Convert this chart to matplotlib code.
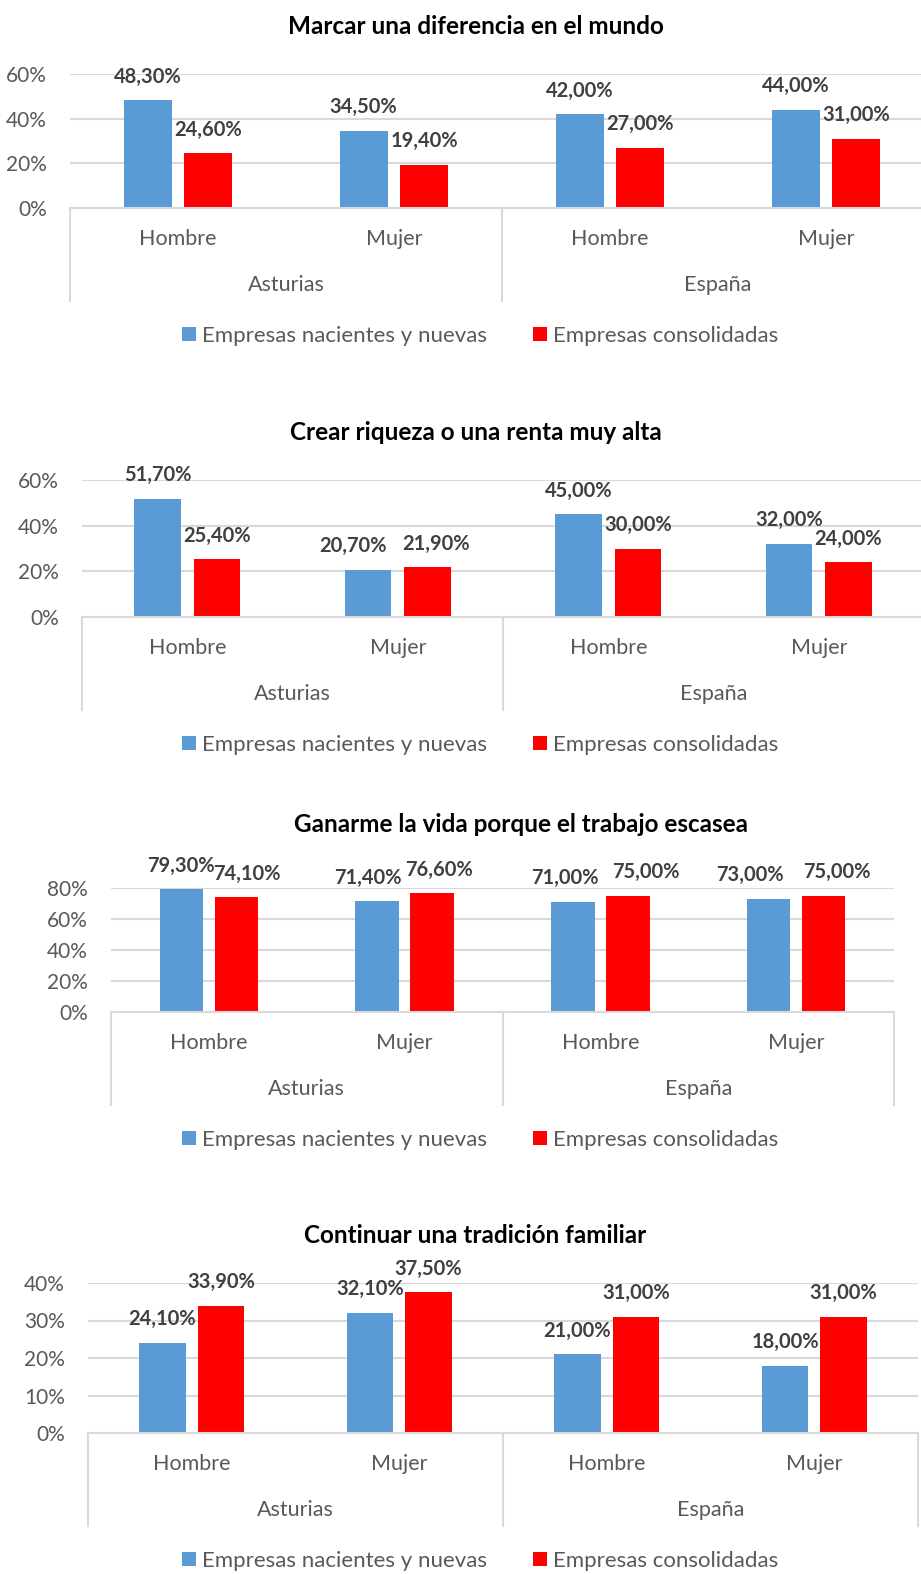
import matplotlib
matplotlib.use('Agg')
import matplotlib.pyplot as plt
from matplotlib.ticker import FuncFormatter

plt.rcParams['font.family'] = ['Lato', 'DejaVu Sans']

# Data
titles = ['Marcar una diferencia en el mundo',
          'Crear riqueza o una renta muy alta',
          'Ganarme la vida porque el trabajo escasea',
          'Continuar una tradición familiar']
regions = ['Asturias', 'España']
sexes = ['Hombre', 'Mujer']
series_names = ['Empresas nacientes y nuevas', 'Empresas consolidadas']

nacientes_diferencia = [48.3, 34.5, 42.0, 44.0]
consolidadas_diferencia = [24.6, 19.4, 27.0, 31.0]
nacientes_riqueza = [51.7, 20.7, 45.0, 32.0]
consolidadas_riqueza = [25.4, 21.9, 30.0, 24.0]
nacientes_ganarme = [79.3, 71.4, 71.0, 73.0]
consolidadas_ganarme = [74.1, 76.6, 75.0, 75.0]
nacientes_tradicion = [24.1, 32.1, 21.0, 18.0]
consolidadas_tradicion = [33.9, 37.5, 31.0, 31.0]

y_max = [60, 60, 80, 40]
y_step = [20, 20, 20, 10]

blue = '#5B9BD5'
red = '#FF0000'
grid_col = '#D9D9D9'
text_col = '#595959'
label_col = '#404040'

W, H = 921, 1574
fig = plt.figure(figsize=(W / 100, H / 100), dpi=100)

# layout in pixels: left, right, top (max value), bottom (0%)
boxes = [(70, 934, 74, 208), (82, 924, 480, 617),
         (111, 894, 888, 1012), (88, 918, 1283, 1433)]
title_pos = [(476, 34), (476, 440), (521, 832), (475, 1243)]
# horizontal nudges of some data labels (pixels) where Excel moved them
blue_shift = [[0, 0, 0, 0], [0, -15, 0, 0], [0, -9, -8, -19], [0, 0, 0, 0]]
red_shift = [[0, 0, 0, 0], [0, 9, 0, 0], [10, 7, 18, 13], [0, 0, 0, 0]]

panels = [(nacientes_diferencia, consolidadas_diferencia),
          (nacientes_riqueza, consolidadas_riqueza),
          (nacientes_ganarme, consolidadas_ganarme),
          (nacientes_tradicion, consolidadas_tradicion)]

x = list(range(4))
bw = 0.222
off = 0.141

for k, (nac, con) in enumerate(panels):
    left, right, top, bottom = boxes[k]
    ax = fig.add_axes([left / W, 1 - bottom / H, (right - left) / W, (bottom - top) / H])
    axh = bottom - top

    b1 = ax.bar([i - off for i in x], nac, bw, color=blue, zorder=3)
    b2 = ax.bar([i + off for i in x], con, bw, color=red, zorder=3)

    ax.set_xlim(-0.5, 3.5)
    ax.set_ylim(0, y_max[k])
    ax.set_yticks(range(0, y_max[k] + 1, y_step[k]))
    ax.yaxis.set_major_formatter(FuncFormatter(lambda v, p: f'{v:.0f}%'))
    ax.tick_params(axis='y', length=0, pad=16.5, labelsize=15, labelcolor=text_col)
    ax.set_xticks([])
    ax.grid(axis='y', color=grid_col, linewidth=1.5, zorder=0)
    ax.set_axisbelow(True)
    for s in ['top', 'right', 'left']:
        ax.spines[s].set_visible(False)
    ax.spines['bottom'].set_color(grid_col)
    ax.spines['bottom'].set_linewidth(1.5)
    ax.spines['bottom'].set_zorder(4)

    # data labels
    for i in x:
        for val, dx, sh in [(nac[i], -off, blue_shift[k][i]), (con[i], off, red_shift[k][i])]:
            ax.annotate(f'{val:.2f}%'.replace('.', ','), xy=(i + dx, val),
                        xytext=(sh, 23.5), textcoords='offset pixels',
                        ha='center', va='center', fontsize=14.5, fontweight='bold',
                        color=label_col, annotation_clip=False)

    # two-level category axis
    for i in x:
        ax.annotate(sexes[i % 2], xy=(i, 0), xycoords=('data', 'axes fraction'),
                    xytext=(0, -31), textcoords='offset pixels',
                    ha='center', va='center', fontsize=15.5, color=text_col)
    for j, reg in enumerate(regions):
        ax.annotate(reg, xy=(2 * j + 0.5, 0), xycoords=('data', 'axes fraction'),
                    xytext=(0, -77), textcoords='offset pixels',
                    ha='center', va='center', fontsize=15.5, color=text_col)
    for sx in [-0.5, 1.5, 3.5]:
        ax.plot([sx, sx], [0, -93 / axh], transform=ax.get_xaxis_transform(),
                color=grid_col, linewidth=1.5, clip_on=False)

    tx, ty = title_pos[k]
    fig.text(tx / W, 1 - ty / H, titles[k], ha='center', va='baseline',
             fontsize=17.5, fontweight='bold', color='black')

    fig.legend([b1, b2], series_names, loc='center', ncol=2,
               bbox_to_anchor=(480 / W, 1 - (bottom + 128) / H),
               frameon=False, fontsize=16, labelcolor=text_col,
               handlelength=0.63, handleheight=0.63, handletextpad=0.27,
               columnspacing=2.1, borderaxespad=0, borderpad=0)

fig.savefig('out.png', dpi=100)
